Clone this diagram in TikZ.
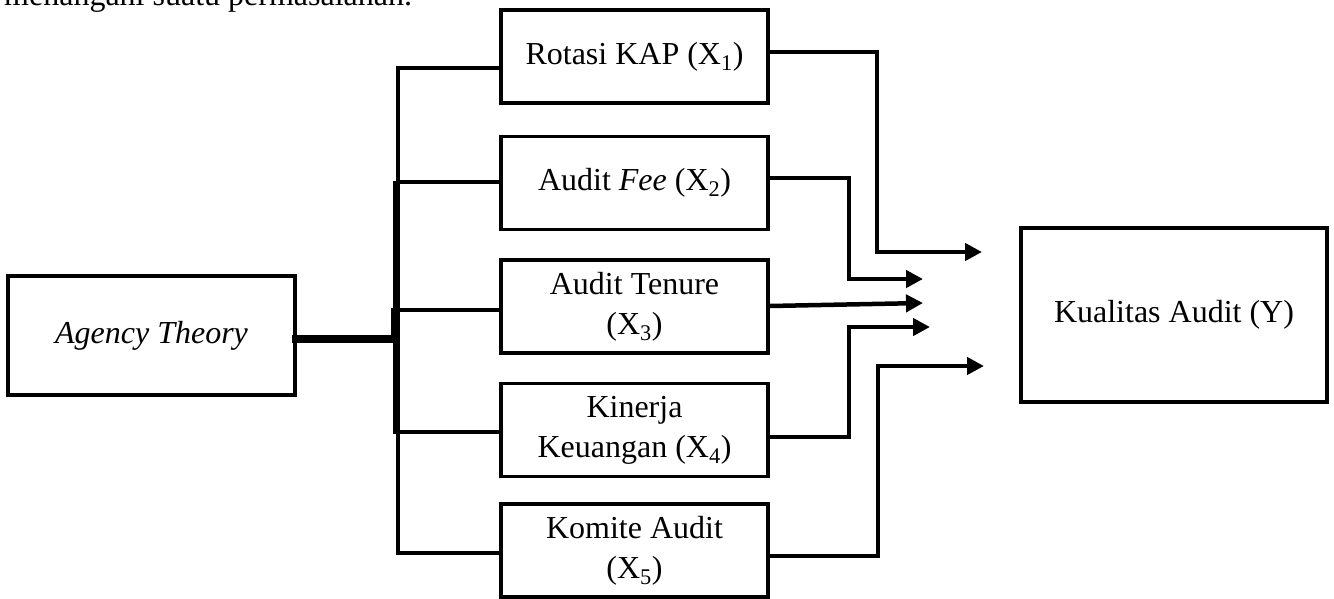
\documentclass[tikz,border=0pt]{standalone}
\usepackage{fontspec}
\setmainfont{Liberation Serif}
\usetikzlibrary{arrows.meta}
\begin{document}
\begin{tikzpicture}[x=1pt,y=-1pt,
  box/.style={draw, line width=3.5pt, rectangle, inner sep=0pt, align=center,
    font=\fontsize{32}{40}\selectfont},
  midbox/.style={box, minimum width=267pt, minimum height=93pt},
  conn/.style={line width=4.5pt},
  thickconn/.style={line width=7.5pt},
  arr/.style={line width=4.5pt, -{Triangle[length=17pt,width=17pt]}},
]
\useasboundingbox (0,0) rectangle (1334,598);

\node[anchor=base west, inner sep=0pt, font=\fontsize{32}{40}\selectfont] (top) at (4,5) {menangani suatu permasalahan.};

\node[box, minimum width=287pt, minimum height=119pt] (ag) at (151.5,335.5) {\textit{Agency Theory}};

\node[midbox] (b1) at (634.5,56.5) {Rotasi KAP (X\textsubscript{1})};
\node[midbox] (b2) at (634.5,183) {Audit \textit{Fee} (X\textsubscript{2})};
\node[midbox] (b3) at (634.5,306.5) {Audit Tenure\\(X\textsubscript{3})};
\node[midbox] (b4) at (634.5,430) {Kinerja\\Keuangan (X\textsubscript{4})};
\node[midbox] (b5) at (634.5,550.5) {Komite Audit\\(X\textsubscript{5})};

\node[box, minimum width=306pt, minimum height=174pt] (y) at (1174,315) {Kualitas Audit (Y)};

% trunk
\coordinate (jt) at (398,68);
\coordinate (jb) at (398,553);
\coordinate (jm) at (400,339);
\coordinate (k1) at (396.5,181);
\coordinate (k2) at (396.5,434);
\coordinate (k3) at (395,308);
\coordinate (k4) at (395,342);

\draw[conn] ([yshift=-11.5pt]b1.west) -- (jt) -- (jb) -- ([yshift=-2.5pt]b5.west);
\draw[conn] ([yshift=1pt]b2.west) -- ++(-103,0);
\draw[conn] ([yshift=-3.5pt]b3.west) -- ++(-103,0);
\draw[conn] ([yshift=-2pt]b4.west) -- ++(-103,0);
\draw[thickconn] (k1) -- (k2);
\draw[line width=8.5pt] (k3) -- (k4);
\draw[thickconn] ([xshift=-5pt,yshift=-3.5pt]ag.east) -- (jm);

% arrows to Y
\coordinate (t1) at (982,252);
\coordinate (t2) at (923,279);
\coordinate (t3) at (923,303);
\coordinate (t4) at (930,327);
\coordinate (t5) at (984,366);

\draw[arr] ([yshift=4.5pt]b1.east) -- ++(107,0) |- (t1);
\draw[arr] ([yshift=5pt]b2.east) -- ++(79,0) |- (t2);
\draw[arr] ([yshift=0.5pt]b3.east) -- (t3);
\draw[arr] ([yshift=-7pt]b4.east) -- ++(79,0) |- (t4);
\draw[arr] ([yshift=-5.5pt]b5.east) -- ++(108,0) |- (t5);
\end{tikzpicture}
\end{document}
